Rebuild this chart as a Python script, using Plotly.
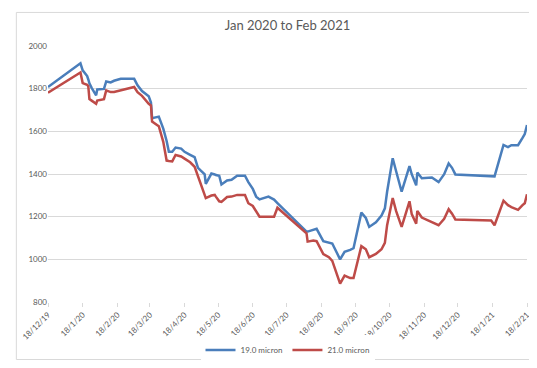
import plotly.graph_objects as go

dates = [
    "2019-12-18", "2020-01-16", "2020-01-18", "2020-01-22", "2020-01-23", "2020-01-24",
    "2020-01-26", "2020-01-30", "2020-01-31", "2020-02-06", "2020-02-08", "2020-02-12",
    "2020-02-15", "2020-02-21", "2020-03-04", "2020-03-07", "2020-03-11", "2020-03-17",
    "2020-03-19", "2020-03-20", "2020-03-26", "2020-03-30", "2020-04-02", "2020-04-04",
    "2020-04-07", "2020-04-10", "2020-04-15", "2020-04-18", "2020-04-23", "2020-04-27",
    "2020-04-30", "2020-05-03", "2020-05-06", "2020-05-07", "2020-05-12", "2020-05-15",
    "2020-05-16", "2020-05-19", "2020-05-21", "2020-05-26", "2020-05-30", "2020-06-04",
    "2020-06-11", "2020-06-14", "2020-06-18", "2020-06-21", "2020-06-24", "2020-07-02",
    "2020-07-07", "2020-07-10", "2020-08-05", "2020-08-06", "2020-08-11", "2020-08-14",
    "2020-08-20", "2020-08-25", "2020-08-28", "2020-09-04", "2020-09-08", "2020-09-13",
    "2020-09-16", "2020-09-23", "2020-09-27", "2020-09-30", "2020-10-06", "2020-10-11",
    "2020-10-14", "2020-10-16", "2020-10-21", "2020-10-24", "2020-10-29", "2020-11-05",
    "2020-11-07", "2020-11-11", "2020-11-12", "2020-11-16", "2020-11-25", "2020-12-01",
    "2020-12-06", "2020-12-10", "2020-12-13", "2020-12-16", "2021-01-17", "2021-01-20",
    "2021-01-28", "2021-02-01", "2021-02-04", "2021-02-10", "2021-02-14", "2021-02-16",
    "2021-02-18",
]

micron_19 = [
    1808, 1919, 1886, 1859, 1843, 1825, 1804, 1769, 1796, 1799, 1834, 1829,
    1837, 1846, 1846, 1816, 1789, 1764, 1735, 1662, 1669, 1613, 1555, 1504,
    1504, 1524, 1519, 1504, 1490, 1479, 1429, 1411, 1398, 1354, 1402, 1398,
    1395, 1392, 1351, 1370, 1373, 1392, 1392, 1362, 1330, 1294, 1281, 1294,
    1280, 1264, 1130, 1130, 1137, 1143, 1085, 1077, 1074, 1000, 1035, 1044,
    1052, 1219, 1194, 1152, 1174, 1205, 1239, 1317, 1474, 1414, 1317, 1437,
    1399, 1347, 1407, 1380, 1384, 1362, 1399, 1449, 1429, 1398, 1392, 1389,
    1536, 1526, 1535, 1535, 1569, 1587, 1630,
]

micron_21 = [
    1781, 1876, 1826, 1818, 1811, 1751, 1744, 1729, 1744, 1751, 1792, 1784,
    1784, 1792, 1808, 1784, 1766, 1729, 1721, 1646, 1624, 1551, 1463, 1461,
    1459, 1489, 1482, 1472, 1455, 1434, 1392, 1347, 1303, 1287, 1299, 1302,
    1294, 1272, 1269, 1292, 1294, 1302, 1302, 1263, 1250, 1227, 1200, 1200,
    1200, 1242, 1122, 1083, 1088, 1085, 1025, 1010, 993, 886, 924, 912,
    912, 1062, 1047, 1010, 1025, 1047, 1077, 1160, 1287, 1227, 1152, 1272,
    1212, 1167, 1227, 1196, 1174, 1160, 1190, 1235, 1214, 1187, 1182, 1160,
    1275, 1254, 1245, 1232, 1254, 1263, 1305,
]

tick_dates = [
    "2019-12-18", "2020-01-18", "2020-02-18", "2020-03-18", "2020-04-18",
    "2020-05-18", "2020-06-18", "2020-07-18", "2020-08-18", "2020-09-18",
    "2020-10-18", "2020-11-18", "2020-12-18", "2021-01-18", "2021-02-18",
]
tick_labels = [
    "18/12/19", "18/1/20", "18/2/20", "18/3/20", "18/4/20", "18/5/20", "18/6/20",
    "18/7/20", "18/8/20", "18/9/20", "18/10/20", "18/11/20", "18/12/20",
    "18/1/21", "18/2/21",
]
y_ticks = [800, 1000, 1200, 1400, 1600, 1800, 2000]

FONT = "Lato, Liberation Sans, sans-serif"
GREY = "#595959"

fig = go.Figure()
fig.add_trace(go.Scatter(x=dates, y=micron_19, mode="lines", name="19.0 micron",
                         line=dict(color="#4A7EBB", width=2.5)))
fig.add_trace(go.Scatter(x=dates, y=micron_21, mode="lines", name="21.0 micron",
                         line=dict(color="#BE4B48", width=2.5)))

fig.update_layout(
    width=537, height=368,
    margin=dict(l=35, r=18, t=38, b=63),
    paper_bgcolor="white", plot_bgcolor="white",
    title=dict(text="Jan 2020 to Feb 2021", x=0.5, xref="paper", y=1 - 17 / 368,
               yref="container", yanchor="middle",
               font=dict(family=FONT, size=13, color=GREY)),
    font=dict(family=FONT, color=GREY, size=8),
    showlegend=True,
    legend=dict(orientation="h", x=0.5, xanchor="center", y=-50 / 267, yanchor="middle",
                font=dict(size=8, color=GREY), itemwidth=30),
    xaxis=dict(range=["2019-12-18", "2021-02-18"], tickvals=tick_dates, ticktext=tick_labels,
               tickangle=-45, showgrid=False, zeroline=False, showline=False,
               ticks="outside", ticklen=4, tickcolor="#D9D9D9",
               tickfont=dict(size=8, color=GREY)),
    yaxis=dict(range=[800, 2000], tickvals=y_ticks, showgrid=True, gridcolor="#D9D9D9",
               gridwidth=1, zeroline=False, showline=False, ticks="",
               tickfont=dict(size=8, color=GREY)),
)

fig.add_shape(type="rect", xref="paper", yref="paper",
              x0=-32 / 484, x1=1 + 16 / 484, y0=-60 / 267, y1=1 + 35 / 267,
              line=dict(color="#D9D9D9", width=1), fillcolor="rgba(0,0,0,0)", layer="below")

fig.write_html("out.html")
